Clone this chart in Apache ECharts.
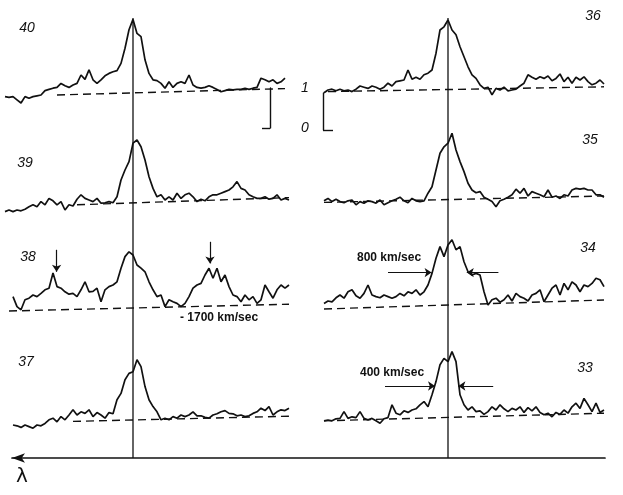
<!DOCTYPE html>
<html>
<head>
<meta charset="utf-8">
<title>Line profiles</title>
<style>
  html, body { margin: 0; padding: 0; background: #fff; }
  .chart { width: 623px; height: 495px; }
</style>
<script src="https://cdn.jsdelivr.net/npm/echarts@6.0.0/dist/echarts.min.js"></script>
</head>
<body>
<div class="chart"></div>
<script>
// 1. data: relative flux per channel (continuum = 1), null where no trace
const prof40 = [0.91,0.89,0.91,0.83,0.75,0.91,0.87,0.91,0.93,0.95,
  1.06,1.09,1.12,1.14,1.24,1.18,1.14,1.2,1.24,1.45,
  1.34,1.58,1.33,1.24,1.33,1.43,1.49,1.53,1.56,1.74,
  2.12,2.58,2.84,2.49,2.41,1.83,1.49,1.33,1.31,1.24,
  1.12,1.28,1.14,1.24,1.28,1.24,1.45,1.2,1.14,1.12,
  1.14,1.18,1.14,1.09,1.03,1.06,1.09,1.08,1.09,1.09,
  1.12,1.09,1.12,1.14,1.37,1.33,1.28,1.33,1.24,1.28,
  1.37,null]
const prof39 = [0.81,0.85,0.81,0.85,0.83,0.87,0.93,0.98,0.93,1.06,
  0.98,1.14,1.08,0.98,1.06,0.85,0.98,0.95,1.12,1.23,
  1.14,1.1,1.06,1.14,1.02,1.03,1.06,1.03,1.18,1.6,
  1.85,2.06,2.52,2.6,2.43,2.1,1.68,1.39,1.18,1.23,
  1.1,1.18,1.1,1.27,1.14,1.23,1.27,1.18,1.06,1.12,
  1.08,1.18,1.23,1.23,1.27,1.31,1.35,1.43,1.56,1.39,
  1.35,1.23,1.18,1.14,1.14,1.18,1.12,1.14,1.23,1.1,
  1.14,1.1]
const prof38 = [null,null,1.26,1.01,0.93,1.18,1.22,1.3,1.26,1.34,
  1.43,1.47,1.85,1.51,1.47,1.38,1.32,1.34,1.26,1.43,
  1.63,1.38,1.39,1.47,1.13,1.43,1.51,1.55,1.63,1.97,
  2.26,2.38,2.3,2.05,1.97,1.88,1.63,1.43,1.26,1.3,
  1.01,1.18,1.13,1.09,1.01,1.09,1.26,1.47,1.55,1.59,
  1.8,1.97,1.72,1.97,1.63,1.8,1.51,1.3,1.26,1.13,
  1.3,1.18,1.26,1.09,1.18,1.55,1.38,1.22,1.43,1.55,
  1.47,1.55]
const prof37 = [null,null,0.9,0.88,0.84,0.9,0.86,0.82,0.9,0.88,
  0.94,1.03,1.07,0.98,1.11,1.03,1.15,1.28,1.15,1.23,
  1.19,1.28,1.11,1.21,1.15,1.07,1.21,1.18,1.53,1.69,
  2.03,2.19,2.23,2.53,2.36,1.86,1.53,1.36,1.23,1.03,
  1.07,1.03,1.11,1.07,1.15,1.11,1.15,1.23,1.13,1.13,
  1.09,1.07,1.15,1.18,1.23,1.26,1.19,1.18,1.13,1.15,
  1.11,1.13,1.19,1.23,1.32,1.26,1.36,1.15,1.23,1.28,
  1.26,1.32]
const prof36 = [null,0.93,1.0,1.02,0.98,1.02,0.98,1.0,0.96,1.02,
  1.1,1.07,1.04,1.1,1.07,1.02,1.07,1.17,1.1,1.21,
  1.23,1.25,1.5,1.27,1.32,1.27,1.38,1.42,1.5,1.92,
  2.5,2.58,2.75,2.5,2.38,2.08,1.83,1.58,1.38,1.29,
  1.13,1.04,1.07,0.88,1.04,1.0,1.07,0.98,1.0,1.02,
  1.1,1.17,1.38,1.32,1.27,1.33,1.29,1.35,1.23,1.29,
  1.4,1.21,1.32,1.17,1.32,1.25,1.33,1.21,1.13,1.17,
  1.25,1.15]
const prof35 = [null,0.98,1.04,0.96,1.02,0.96,0.93,0.98,1.0,0.88,
  0.96,0.92,0.98,0.96,0.92,1.0,0.88,0.93,0.98,1.02,
  1.07,0.98,0.93,1.04,0.98,0.96,0.98,1.17,1.33,1.75,
  2.17,2.33,2.42,2.67,2.25,1.96,1.71,1.42,1.25,1.18,
  1.21,1.07,1.02,0.96,0.83,0.98,1.02,1.07,1.13,1.27,
  1.17,1.29,1.1,1.21,1.17,1.13,1.08,1.25,1.07,1.1,
  1.04,1.13,1.1,1.25,1.29,1.27,1.29,1.25,1.25,1.13,
  1.13,1.07]
const prof34 = [null,1.04,1.1,1.08,1.18,1.25,1.17,1.33,1.38,1.23,
  1.17,1.29,1.5,1.25,1.21,1.18,1.25,1.21,1.17,1.21,
  1.29,1.23,1.33,1.29,1.38,1.25,1.33,1.5,1.79,2.17,
  2.46,2.21,2.5,2.63,2.38,2.46,2.08,1.83,1.75,1.79,
  1.75,1.33,1.0,1.13,1.17,1.07,1.13,1.25,1.1,1.29,
  1.21,1.17,1.1,1.25,1.29,1.38,1.08,1.25,1.42,1.5,
  1.25,1.54,1.38,1.58,1.5,1.33,1.5,1.46,1.54,1.67,
  1.63,1.46]
const prof33 = [null,0.93,0.95,0.93,0.98,0.99,1.16,0.99,1.03,1.01,
  1.16,0.99,0.95,0.99,0.93,0.87,0.98,1.01,1.33,1.12,
  1.08,1.18,1.14,1.2,1.23,1.33,1.41,1.28,1.58,1.91,
  2.33,2.49,2.41,2.66,2.41,1.58,1.33,1.2,1.28,1.16,
  1.18,1.09,1.16,1.28,1.2,1.33,1.23,1.16,1.24,1.2,
  1.28,1.14,1.26,1.18,1.28,1.14,1.08,1.12,1.03,1.14,
  1.09,1.2,1.12,1.28,1.37,1.24,1.49,1.33,1.16,1.37,
  1.14,1.2]

// continuum (dashed) ends: [channel, flux]
const base40 = [[13, 0.95], [70, 1.11]]
const base39 = [[18, 0.98], [71, 1.16]]
const base38 = [[1, 0.9], [71, 1.07]]
const base37 = [[17, 0.99], [71, 1.12]]
const base36 = [[2, 0.96], [71, 1.08]]
const base35 = [[1, 0.94], [71, 1.1]]
const base34 = [[1, 0.9], [71, 1.125]]
const base33 = [[1, 0.93], [71, 1.12]]

// rest wavelength channel and scale bar ticks
const restChannel = 32
const scaleTicks = [0, 1]

// arrows: [tail, head] as [channel, flux]
const arrows38 = [[[12.9, 2.43], [12.9, 1.88]], [[51.25, 2.63], [51.25, 2.09]]]
const arrows34 = [[[17, 1.81], [27.9, 1.81]], [[44.6, 1.81], [36.7, 1.81]]]
const arrows33 = [[[16.25, 1.8], [28.75, 1.8]], [[43.3, 1.8], [34.6, 1.8]]]

// 2. layout of the eight panels (zero = pixel row of flux 0)
const panels = [
  { name: '40', prof: prof40, base: base40, left: 5, zero: 133, lx: 27, ly: 28 },
  { name: '39', prof: prof39, base: base39, left: 5, zero: 244, lx: 25, ly: 163 },
  { name: '38', prof: prof38, base: base38, left: 5, zero: 347, lx: 28, ly: 257, arrows: arrows38 },
  { name: '37', prof: prof37, base: base37, left: 5, zero: 461, lx: 26, ly: 362 },
  { name: '36', prof: prof36, base: base36, left: 320, zero: 130, lx: 593, ly: 16 },
  { name: '35', prof: prof35, base: base35, left: 320, zero: 240, lx: 590, ly: 140 },
  { name: '34', prof: prof34, base: base34, left: 320, zero: 345, lx: 588, ly: 248, arrows: arrows34 },
  { name: '33', prof: prof33, base: base33, left: 320, zero: 458, lx: 585, ly: 368, arrows: arrows33 }
]

const ink = '#111'
const grids = [], xAxes = [], yAxes = [], series = [], texts = []

panels.forEach((p, k) => {
  grids.push({ left: p.left, top: p.zero - 128, width: 284, height: 128, outerBoundsMode: 'none' })
  xAxes.push({ type: 'value', gridIndex: k, min: 0, max: 71, show: false })
  yAxes.push({ type: 'value', gridIndex: k, min: 0, max: 3.2, show: false })

  const line = {
    type: 'line', xAxisIndex: k, yAxisIndex: k, clip: false,
    data: p.prof.map((v, i) => [i, v]),
    showSymbol: false, silent: true,
    lineStyle: { color: ink, width: 1.7 }
  }
  if (p.arrows) {
    line.markLine = {
      silent: true, symbol: ['none', 'arrow'], symbolSize: 7,
      label: { show: false },
      lineStyle: { color: ink, width: 1.2, type: 'solid' },
      data: p.arrows.map(a => [{ coord: a[0] }, { coord: a[1] }])
    }
  }
  series.push(line)
  series.push({
    type: 'line', xAxisIndex: k, yAxisIndex: k, data: p.base,
    showSymbol: false, silent: true,
    lineStyle: { color: ink, width: 1.4, type: [8, 5] }
  })

  texts.push({
    type: 'text', x: p.lx, y: p.ly,
    style: { text: p.name, fill: ink, font: 'italic 14px "Liberation Sans"', textAlign: 'center', textVerticalAlign: 'middle' }
  })
})

// 3. rest wavelength verticals, one per column
;[5, 320].forEach(left => {
  const k = grids.length
  grids.push({ left: left, top: 18, width: 284, height: 440, outerBoundsMode: 'none' })
  xAxes.push({ type: 'value', gridIndex: k, min: 0, max: 71, show: false })
  yAxes.push({ type: 'value', gridIndex: k, min: 0, max: 1, show: false })
  series.push({
    type: 'line', xAxisIndex: k, yAxisIndex: k, silent: true, showSymbol: false,
    data: [[restChannel, 0], [restChannel, 1]],
    lineStyle: { color: ink, width: 1.3 }
  })
})

// 4. wavelength axis with arrow to the left
let g = grids.length
grids.push({ left: 12, top: 18, width: 593, height: 440, outerBoundsMode: 'none' })
xAxes.push({
  type: 'value', gridIndex: g, min: 0, max: 1, position: 'bottom',
  axisLine: { show: true, onZero: false, symbol: ['arrow', 'none'], symbolSize: [7, 13], lineStyle: { color: ink, width: 1.7 } },
  axisTick: { show: false }, axisLabel: { show: false }, splitLine: { show: false }
})
yAxes.push({ type: 'value', gridIndex: g, min: 0, max: 1, show: false })

// 5. intensity scale brackets (0 .. 1)
g = grids.length
grids.push({ left: 270, top: 88, width: 15, height: 40, outerBoundsMode: 'none' })
xAxes.push({ type: 'value', gridIndex: g, min: 0, max: 1, show: false })
yAxes.push({
  type: 'value', gridIndex: g, min: 0, max: 1, position: 'right',
  axisLine: { show: true, lineStyle: { color: ink, width: 1.4 } },
  axisTick: { show: true, inside: true, length: 8, customValues: [0], lineStyle: { color: ink, width: 1.4 } },
  axisLabel: { show: true, customValues: scaleTicks, margin: 16, color: ink, fontStyle: 'italic', fontSize: 14, fontFamily: 'Liberation Sans' },
  splitLine: { show: false }
})
g = grids.length
grids.push({ left: 323, top: 93, width: 10, height: 37, outerBoundsMode: 'none' })
xAxes.push({ type: 'value', gridIndex: g, min: 0, max: 1, show: false })
yAxes.push({
  type: 'value', gridIndex: g, min: 0, max: 1, position: 'left',
  axisLine: { show: true, lineStyle: { color: ink, width: 1.4 } },
  axisTick: { show: true, inside: true, length: 10, customValues: [0], lineStyle: { color: ink, width: 1.4 } },
  axisLabel: { show: false }, splitLine: { show: false }
})

// 6. annotation texts
const noteFont = 'bold 12px "Liberation Sans"'
texts.push(
  { type: 'text', x: 180, y: 318, style: { text: '- 1700 km/sec', fill: ink, font: noteFont, textVerticalAlign: 'middle' } },
  { type: 'text', x: 357, y: 258, style: { text: '800 km/sec', fill: ink, font: noteFont, textVerticalAlign: 'middle' } },
  { type: 'text', x: 360, y: 373, style: { text: '400 km/sec', fill: ink, font: noteFont, textVerticalAlign: 'middle' } },
  { type: 'text', x: 22, y: 477, style: { text: 'λ', fill: ink, font: '20px "DejaVu Sans"', textAlign: 'center', textVerticalAlign: 'middle' } }
)

const chart = echarts.init(document.querySelector('.chart'), null, { renderer: 'canvas' })
chart.setOption({
  backgroundColor: '#fff',
  animation: false,
  grid: grids,
  xAxis: xAxes,
  yAxis: yAxes,
  series: series,
  graphic: texts
})

window.addEventListener('resize', () => {
  chart.resize()
})
</script>
</body>
</html>
